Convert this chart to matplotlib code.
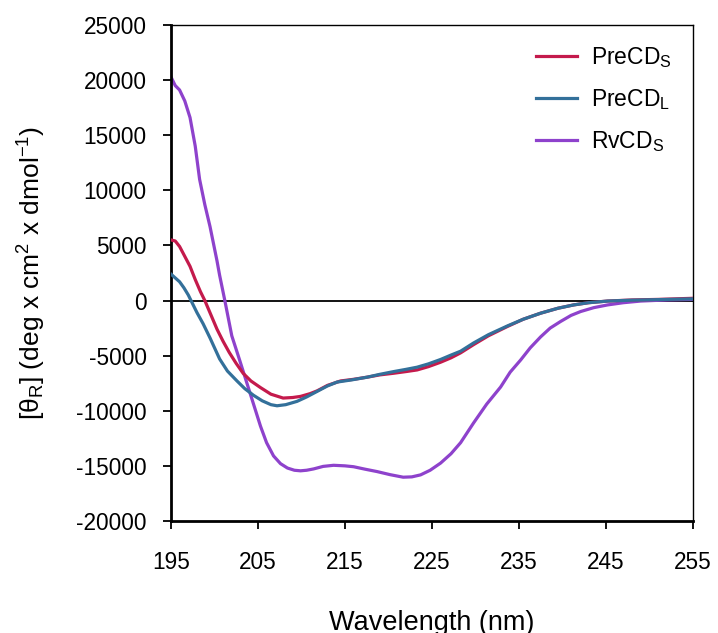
import matplotlib
matplotlib.use('Agg')
import matplotlib.pyplot as plt

plt.rcParams['font.family'] = ['Liberation Sans', 'DejaVu Sans']
plt.rcParams['mathtext.default'] = 'regular'
plt.rcParams['axes.unicode_minus'] = False

# PreCD_S
wl_pres = [195.0, 195.5, 196.0, 196.6, 197.2, 197.8, 198.4, 198.9, 199.6, 200.3,
           201.0, 201.7, 202.5, 203.3, 204.2, 205.3, 206.5, 207.9, 209.0, 209.9,
           211.0, 211.8, 213.0, 214.5, 216.0, 217.6, 219.0, 220.6, 222.0, 223.3,
           224.6, 226.0, 227.2, 228.3, 229.8, 231.5, 233.7, 235.5, 237.5, 239.5,
           241.3, 243.0, 245.2, 248.0, 251.0, 255.0]
cd_pres = [5500, 5400, 4900, 4000, 3100, 1900, 800, 0, -1300, -2600,
           -3700, -4700, -5700, -6600, -7300, -7900, -8500, -8850, -8800, -8700,
           -8450, -8200, -7700, -7300, -7150, -6950, -6750, -6600, -6450, -6300,
           -6000, -5600, -5200, -4750, -4000, -3200, -2350, -1700, -1150, -700,
           -400, -200, -50, 50, 100, 200]

# PreCD_L
wl_prel = [195.0, 195.5, 196.0, 196.5, 197.0, 197.5, 198.0, 198.7, 199.5, 200.6,
           201.5, 202.6, 203.5, 204.5, 205.5, 206.5, 207.2, 208.2, 209.5, 210.6,
           211.8, 213.0, 214.1, 215.8, 217.6, 219.0, 220.6, 222.0, 223.3, 224.6,
           226.0, 227.2, 228.3, 229.8, 231.5, 233.7, 235.5, 237.5, 239.5, 241.3,
           243.0, 245.2, 248.0, 251.0, 255.0]
cd_prel = [2400, 2050, 1700, 1150, 500, -300, -1100, -2100, -3400, -5300,
           -6400, -7300, -8000, -8600, -9100, -9450, -9550, -9450, -9150, -8750,
           -8250, -7750, -7400, -7200, -6950, -6700, -6450, -6250, -6050, -5750,
           -5350, -4950, -4600, -3850, -3100, -2300, -1700, -1150, -700, -400,
           -200, -50, 30, 80, 150]

# RvCD_S
wl_rvs = [195.0, 195.5, 196.0, 196.6, 197.2, 197.8, 198.3, 198.9, 199.5, 200.3,
          200.6, 201.2, 202.0, 202.9, 204.1, 205.3, 206.0, 206.8, 207.6, 208.4,
          209.2, 209.9, 210.6, 211.4, 212.5, 213.7, 215.0, 216.0, 217.3, 218.7,
          220.2, 221.7, 222.7, 223.7, 224.8, 226.0, 227.2, 228.3, 229.8, 231.3,
          232.9, 234.0, 235.2, 236.3, 237.5, 238.6, 239.8, 241.0, 242.1, 243.6,
          245.2, 247.0, 249.0, 252.0, 255.0]
cd_rvs = [20300, 19500, 19100, 18100, 16600, 14000, 11000, 8700, 6700, 3600,
          2300, 0, -3200, -5400, -8400, -11400, -12900, -14100, -14800, -15200,
          -15400, -15450, -15400, -15280, -15050, -14950, -15000, -15080, -15300, -15520,
          -15800, -16030, -16000, -15820, -15400, -14750, -13900, -12900, -11100, -9400,
          -7850, -6500, -5400, -4300, -3300, -2500, -1900, -1350, -1000, -650,
          -400, -200, -50, 50, 100]

fig = plt.figure(figsize=(7.18, 6.33), dpi=100)
ax = fig.add_axes([0.238, 0.177, 0.727, 0.7836])

ax.axhline(0, color='black', lw=1.3, zorder=1)
ax.plot(wl_pres, cd_pres, color='#C41A4C', lw=2.3, label='PreCD$_{S}$', zorder=3)
ax.plot(wl_prel, cd_prel, color='#33709A', lw=2.3, label='PreCD$_{L}$', zorder=4)
ax.plot(wl_rvs, cd_rvs, color='#8E42CC', lw=2.3, label='RvCD$_{S}$', zorder=2)

ax.set_xlim(195, 255)
ax.set_ylim(-20000, 25000)
ax.set_xticks(range(195, 256, 10))
ax.set_yticks(range(-20000, 25001, 5000))
ax.tick_params(axis='both', direction='out', labelsize=16.3, length=5.5, width=1.3)
ax.tick_params(axis='x', pad=16)
ax.tick_params(axis='y', pad=12)

for side in ['left', 'bottom']:
    ax.spines[side].set_linewidth(2)
for side in ['top', 'right']:
    ax.spines[side].set_linewidth(1)

ax.set_xlabel('Wavelength (nm)', fontsize=19.5, labelpad=26)
ax.set_ylabel('[θ$_{R}$] (deg x cm$^{2}$ x dmol$^{-1}$)', fontsize=19, labelpad=20)

ax.legend(loc='upper left', bbox_to_anchor=(0.699, 0.96), frameon=False,
          fontsize=16.5, handlelength=1.8, handletextpad=0.6,
          labelspacing=0.76, borderpad=0, borderaxespad=0)

plt.savefig('out.png', dpi=100)
